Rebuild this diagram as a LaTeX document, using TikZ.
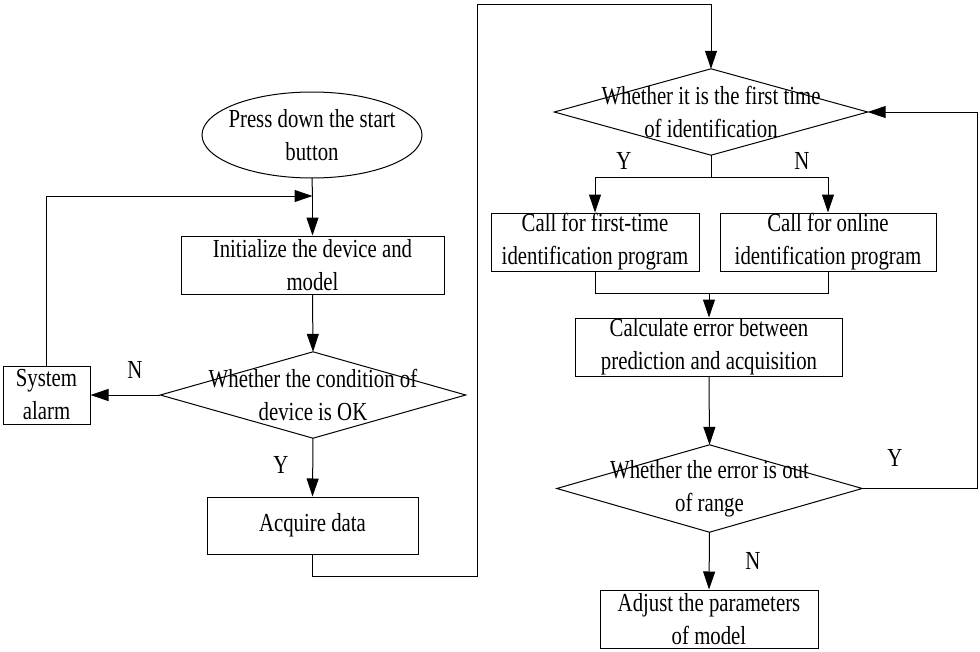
\documentclass[tikz,border=0pt]{standalone}
\usepackage{fontspec}
\setmainfont{Liberation Serif}[FakeStretch=0.8]
\usetikzlibrary{arrows.meta}
\begin{document}
\begin{tikzpicture}[x=1pt,y=-1pt,
  txt/.style={font=\fontsize{26}{33}\selectfont, align=center, inner sep=0pt},
  box/.style={txt, draw, line width=1pt, minimum height=58pt},
  dia/.style={txt, minimum width=#1, minimum height=86pt},
  lbl/.style={font=\fontsize{26}{33}\selectfont, inner sep=0pt},
  line/.style={line width=1pt},
  arr/.style={line, -{Triangle[length=18pt,width=12pt]}},
  diashape/.style={draw, line width=1pt}]
\useasboundingbox (0,0) rectangle (980,651);
% start
\node[txt] (start) at (312,135) {Press down the start\\button};
\draw[line] (start.center) ellipse [x radius=110, y radius=43];
\node[box, minimum width=263pt] (init) at (312.5,265) {Initialize the device and\\model};
\node[dia=305pt] (d1) at (313,395) {Whether the condition of\\device is OK};
\draw[diashape] (d1.north) -- (d1.east) -- (d1.south) -- (d1.west) -- cycle;
\node[box, minimum width=87pt] (alarm) at (46.5,395) {System\\alarm};
\node[box, minimum width=211pt, minimum height=57pt] (acq) at (312.5,525.5) {Acquire data};
% right column
\node[dia=313pt] (d2) at (711,112) {Whether it is the first time\\of identification};
\draw[diashape] (d2.north) -- (d2.east) -- (d2.south) -- (d2.west) -- cycle;
\node[box, minimum width=208pt] (b1) at (595,242) {Call for first-time\\identification program};
\node[box, minimum width=216pt] (b2) at (828,242) {Call for online\\identification program};
\node[box, minimum width=267pt] (calc) at (709,347) {Calculate error between\\prediction and acquisition};
\node[dia=305pt, minimum height=87pt] (d3) at (709.5,488.5) {Whether the error is out\\of range};
\draw[diashape] (d3.north) -- (d3.east) -- (d3.south) -- (d3.west) -- cycle;
\node[box, minimum width=218pt] (adj) at (709,619) {Adjust the parameters\\of model};
% coordinates
\coordinate (j1) at (312.5,196);
\coordinate (c1) at (477,576);
\coordinate (c2) at (477,4);
\coordinate (j2) at (711,177);
\coordinate (j3) at (709,293);
\coordinate (c3) at (977,488.5);
% connectors
\draw[line] (start.south |- 0,178) -- (j1);
\draw[arr] (j1) -- (init.north);
\draw[arr] (alarm.north) |- (j1);
\draw[arr] (init.south) -- (d1.north);
\draw[arr] (d1.west) -- (alarm.east);
\draw[arr] (d1.south) -- (acq.north);
\draw[arr] (acq.south) |- (c1) -- (c2) -| (d2.north);
\draw[line] (d2.south) -- (j2);
\draw[arr] (j2) -| (b1.north);
\draw[arr] (j2) -| (b2.north);
\draw[line] (b1.south) |- (j3);
\draw[line] (b2.south) |- (j3);
\draw[arr] (j3) -- (calc.north);
\draw[arr] (calc.south) -- (d3.north);
\draw[arr] (d3.east) -- (c3) |- (d2.east);
\draw[arr] (d3.south) -- (adj.north);
% labels
\node[lbl] (lN1) at (135,370) {N};
\node[lbl] (lY1) at (281,465) {Y};
\node[lbl] (lY2) at (624,161) {Y};
\node[lbl] (lN2) at (802,161) {N};
\node[lbl] (lY3) at (895,458) {Y};
\node[lbl] (lN3) at (753,561) {N};
\end{tikzpicture}
\end{document}
